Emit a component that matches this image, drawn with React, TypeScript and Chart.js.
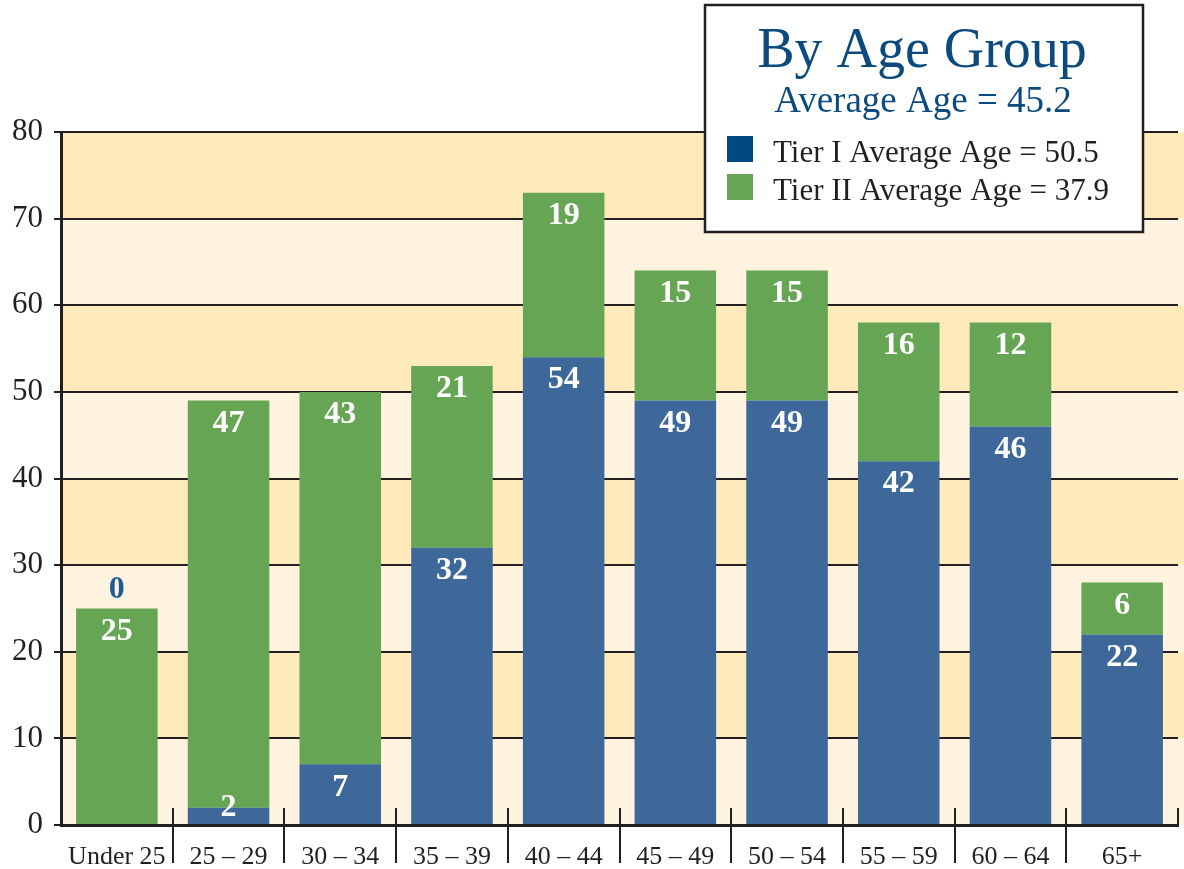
import React, { useEffect, useRef } from "react";
import { Chart, registerables } from "chart.js";

Chart.register(...registerables);

const categories = ["Under 25", "25 – 29", "30 – 34", "35 – 39", "40 – 44", "45 – 49", "50 – 54", "55 – 59", "60 – 64", "65+"];
const tier1 = [0, 2, 7, 32, 54, 49, 49, 42, 46, 22];
const tier2 = [25, 47, 43, 21, 19, 15, 15, 16, 12, 6];
const yTicks = [0, 10, 20, 30, 40, 50, 60, 70, 80];
const titleText = "By Age Group";
const subtitleText = "Average Age = 45.2";
const legendLabels = ["Tier I Average Age = 50.5", "Tier II Average Age = 37.9"];

const BLUE = "#3d6899";
const GREEN = "#65a553";
const LEGEND_BLUE = "#004a80";
const TITLE_BLUE = "#0b4a7f";
const INK = "#231f20";
const BAND_DARK = "#feeabb";
const BAND_LIGHT = "#fef3de";
const SERIF = "'Liberation Serif', 'Times New Roman', serif";

const decorPlugin = {
  id: "decor",
  beforeDraw(chart: any) {
    const { ctx, chartArea, scales, width } = chart;
    const y = scales.y;
    ctx.save();
    ctx.fillStyle = "#ffffff";
    ctx.fillRect(0, 0, chart.width, chart.height);
    for (let i = 0; i < yTicks.length - 1; i++) {
      const top = y.getPixelForValue(yTicks[i + 1]);
      const bot = y.getPixelForValue(yTicks[i]);
      ctx.fillStyle = i % 2 === 0 ? BAND_LIGHT : BAND_DARK;
      ctx.fillRect(chartArea.left, top, width - chartArea.left, bot - top);
    }
    ctx.restore();
  },
  afterDatasetsDraw(chart: any) {
    const { ctx, chartArea, scales } = chart;
    const x = scales.x;
    ctx.save();
    ctx.strokeStyle = INK;
    ctx.lineWidth = 2;
    const n = categories.length;
    for (let i = 1; i <= n; i++) {
      const px = Math.round(x.getPixelForValue(i - 0.5));
      ctx.beginPath();
      ctx.moveTo(px, chartArea.bottom - 17);
      ctx.lineTo(px, i === n ? chartArea.bottom + 1 : chartArea.bottom + 38);
      ctx.stroke();
    }
    ctx.font = `bold 32px ${SERIF}`;
    ctx.textAlign = "center";
    ctx.textBaseline = "middle";
    chart.data.datasets.forEach((ds: any, di: number) => {
      const meta = chart.getDatasetMeta(di);
      meta.data.forEach((bar: any, i: number) => {
        const v = ds.data[i];
        const h = Math.abs(bar.base - bar.y);
        if (v === 0) {
          const stackTop = chart.getDatasetMeta(1).data[i].y;
          ctx.fillStyle = "#1f5b93";
          ctx.fillText(String(v), bar.x, stackTop - 19);
          return;
        }
        ctx.fillStyle = "#ffffff";
        const cy = h < 30 ? bar.y : bar.y + 23;
        ctx.fillText(String(v), bar.x, cy);
      });
    });
    ctx.restore();
  },
  afterDraw(chart: any) {
    const { ctx } = chart;
    ctx.save();
    const bx = 705, by = 5, bw = 438, bh = 227;
    ctx.fillStyle = "#ffffff";
    ctx.fillRect(bx, by, bw, bh);
    ctx.strokeStyle = INK;
    ctx.lineWidth = 2.5;
    ctx.strokeRect(bx, by, bw, bh);
    ctx.textAlign = "center";
    ctx.textBaseline = "alphabetic";
    ctx.fillStyle = TITLE_BLUE;
    ctx.font = `56px ${SERIF}`;
    ctx.fillText(titleText, 922, 67);
    ctx.font = `37px ${SERIF}`;
    ctx.fillText(subtitleText, 923, 112);
    const colors = [LEGEND_BLUE, GREEN];
    const baselines = [162, 200];
    ctx.textAlign = "left";
    ctx.font = `31px ${SERIF}`;
    legendLabels.forEach((t, i) => {
      ctx.fillStyle = colors[i];
      ctx.fillRect(727, baselines[i] - 26, 26, 26);
      ctx.fillStyle = INK;
      ctx.fillText(t, 773, baselines[i]);
    });
    ctx.restore();
  },
};

export default function App() {
  const ref = useRef<HTMLCanvasElement>(null);
  useEffect(() => {
    if (!ref.current) return;
    const chart = new Chart(ref.current, {
      type: "bar",
      data: {
        labels: categories,
        datasets: [
          { label: legendLabels[0], data: tier1, backgroundColor: BLUE, stack: "s", categoryPercentage: 1, barPercentage: 0.73 },
          { label: legendLabels[1], data: tier2, backgroundColor: GREEN, stack: "s", categoryPercentage: 1, barPercentage: 0.73 },
        ],
      },
      options: {
        responsive: false,
        animation: false,
        layout: { padding: { top: 132, right: 6, left: 0, bottom: 0 } },
        plugins: { legend: { display: false }, tooltip: { enabled: false }, title: { display: false } },
        scales: {
          x: {
            stacked: true,
            grid: { display: false },
            border: { display: true, color: INK, width: 3 },
            ticks: { color: INK, font: { family: SERIF, size: 26 }, padding: 9, maxRotation: 0, autoSkip: false },
            afterFit: (s: any) => { s.height = 44; },
          },
          y: {
            stacked: true,
            min: 0,
            max: 80,
            afterBuildTicks: (s: any) => { s.ticks = yTicks.map((v) => ({ value: v })); },
            grid: { color: INK, lineWidth: 2, tickLength: 7, drawTicks: true },
            border: { display: true, color: INK, width: 3 },
            ticks: { color: INK, font: { family: SERIF, size: 31 }, padding: 11 },
            afterFit: (s: any) => { s.width = 61; },
          },
        },
      },
      plugins: [decorPlugin],
    });
    return () => chart.destroy();
  }, []);
  return (
    <div style={{ position: "absolute", left: 0, top: 0, width: 1184, height: 869 }}>
      <canvas ref={ref} width={1184} height={869} style={{ display: "block" }} />
    </div>
  );
}
